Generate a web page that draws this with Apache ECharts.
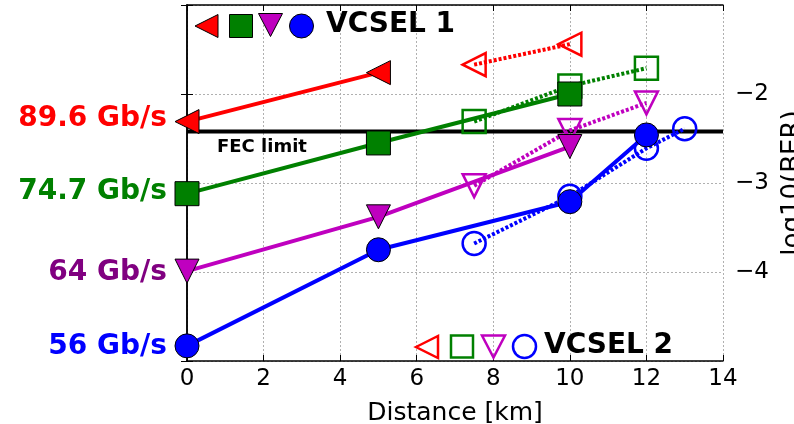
<!DOCTYPE html>
<html><head><meta charset="utf-8">
<script src="https://cdn.jsdelivr.net/npm/echarts@6/dist/echarts.min.js"></script>
<style>html,body{margin:0;padding:0;background:#fff}#c{width:794px;height:424px}</style>
</head><body><div id="c"></div>
<script>
// ---- data ----
const xTicks = [0, 2, 4, 6, 8, 10, 12, 14];
const yTicks = [-5, -4, -3, -2, -1];
const yTickLabels = ['', '\u22124', '\u22123', '\u22122', ''];
const fecLimit = -2.42;
const fecRange = [0, 14];
const rateLabels = ['89.6 Gb/s', '74.7 Gb/s', '64 Gb/s', '56 Gb/s'];

// VCSEL 1 (filled markers, solid lines)
const v1Red     = [[0, -2.31], [5, -1.76]];
const v1Green   = [[0, -3.12], [5, -2.55], [10, -2.00]];
const v1Magenta = [[0, -3.99], [5, -3.38], [10, -2.59]];
const v1Blue    = [[0, -4.83], [5, -3.75], [10, -3.21], [12, -2.46]];
// VCSEL 2 (open markers, dotted lines)
const v2Red     = [[7.5, -1.67], [10, -1.44]];
const v2Green   = [[7.5, -2.31], [10, -1.91], [12, -1.71]];
const v2Magenta = [[7.5, -3.03], [10, -2.41], [12, -2.10]];
const v2Blue    = [[7.5, -3.68], [10, -3.15], [12, -2.61], [13, -2.39]];

// ---- styling ----
const FONT = 'DejaVu Sans';
const RED = '#ff0000', GREEN = '#008000', MAG = '#bf00bf', BLUE = '#0000ff';
const labelColors = [RED, GREEN, '#800080', BLUE];
const SZ = 24;

function solid(name, data, color, symbol, rot) {
  return {
    name, type: 'line', data, symbol, symbolSize: SZ, symbolRotate: rot || 0,
    showSymbol: true, animation: false, silent: true, z: 5,
    lineStyle: { color, width: 4 },
    itemStyle: { color, borderColor: '#000', borderWidth: 1 }
  };
}
function dotted(name, data, color, symbol, rot) {
  return {
    name, type: 'line', data, symbol, symbolSize: SZ - 1, symbolRotate: rot || 0,
    showSymbol: true, animation: false, silent: true, z: 4,
    lineStyle: { color, width: 4, type: [3, 2] },
    itemStyle: { color: 'rgba(0,0,0,0)', borderColor: color, borderWidth: 2.5 }
  };
}

const chart = echarts.init(document.getElementById('c'), null, { renderer: 'canvas' });

const axisLine = { show: true, lineStyle: { color: '#000', width: 1.5 } };
const tick = { show: true, inside: true, length: 6, lineStyle: { color: '#000', width: 1 } };
const grid = { show: true, lineStyle: { color: '#b0b0b0', width: 1, type: [2, 2] } };

const leftTexts = rateLabels.map((t, i) => ({
  type: 'text', right: 794 - 167, top: [105, 178, 259, 333][i],
  style: { text: t, fill: labelColors[i], font: 'bold 28px "' + FONT + '"' }
}));

const option = {
  backgroundColor: '#fff',
  animation: false,
  grid: { left: 187, right: 71, top: 5, bottom: 63, containLabel: false, outerBoundsMode: 'none' },
  xAxis: [
    {
      type: 'value', min: xTicks[0], max: xTicks[xTicks.length - 1], interval: 2,
      position: 'bottom', axisLine, axisTick: tick, splitLine: grid,
      axisLabel: { color: '#000', fontSize: 23, fontFamily: FONT, margin: 7 },
      name: 'Distance [km]', nameLocation: 'middle', nameGap: 40,
      nameTextStyle: { color: '#000', fontSize: 25, fontFamily: FONT }
    },
    {
      type: 'value', min: xTicks[0], max: xTicks[xTicks.length - 1], interval: 2,
      position: 'top', axisLine, axisTick: tick, splitLine: { show: false },
      axisLabel: { show: false }
    }
  ],
  yAxis: [
    {
      type: 'value', min: yTicks[0], max: yTicks[yTicks.length - 1], interval: 1,
      position: 'right', axisLine, axisTick: tick, splitLine: grid,
      axisLabel: {
        color: '#000', fontSize: 23, fontFamily: FONT, margin: 12,
        formatter: v => yTickLabels[yTicks.indexOf(v)] || ''
      },
      name: 'log10(BER)', nameLocation: 'middle', nameRotate: 90, nameGap: 48,
      nameTextStyle: { color: '#000', fontSize: 26, fontFamily: FONT }
    },
    {
      type: 'value', min: yTicks[0], max: yTicks[yTicks.length - 1], interval: 1,
      position: 'left', axisLine, axisTick: tick, splitLine: { show: false },
      axisLabel: { show: false }
    }
  ],
  series: [
    {
      name: 'FEC', type: 'line', data: fecRange.map(x => [x, fecLimit]),
      symbol: 'none', silent: true, z: 3,
      lineStyle: { color: '#000', width: 4 }
    },
    dotted('V2 89.6', v2Red, RED, 'triangle', 90),
    dotted('V2 74.7', v2Green, GREEN, 'rect', 0),
    dotted('V2 64', v2Magenta, MAG, 'triangle', 180),
    dotted('V2 56', v2Blue, BLUE, 'circle', 0),
    solid('V1 89.6', v1Red, RED, 'triangle', 90),
    solid('V1 74.7', v1Green, GREEN, 'rect', 0),
    solid('V1 64', v1Magenta, MAG, 'triangle', 180),
    solid('V1 56', v1Blue, BLUE, 'circle', 0)
  ],
  graphic: [
    ...leftTexts,
    { type: 'text', left: 217, top: 138, z: 10,
      style: { text: 'FEC limit', fill: '#000', font: 'bold 18px "' + FONT + '"' } },
    // VCSEL 1 key
    { type: 'polygon', z: 10, shape: { points: [[195, 26], [218, 14.5], [218, 37.5]] },
      style: { fill: RED, stroke: '#000', lineWidth: 1 } },
    { type: 'rect', z: 10, shape: { x: 229.5, y: 14.5, width: 23, height: 23 },
      style: { fill: GREEN, stroke: '#000', lineWidth: 1 } },
    { type: 'polygon', z: 10, shape: { points: [[258.5, 13.5], [282.5, 13.5], [270.5, 36.5]] },
      style: { fill: MAG, stroke: '#000', lineWidth: 1 } },
    { type: 'circle', z: 10, shape: { cx: 301.5, cy: 26, r: 12 },
      style: { fill: BLUE, stroke: '#000', lineWidth: 1 } },
    { type: 'text', left: 326, top: 11, z: 10,
      style: { text: 'VCSEL 1', fill: '#000', font: 'bold 28px "' + FONT + '"' } },
    // VCSEL 2 key
    { type: 'polygon', z: 10, shape: { points: [[416, 347], [438, 336], [438, 358]] },
      style: { fill: 'none', stroke: RED, lineWidth: 2.5 } },
    { type: 'rect', z: 10, shape: { x: 451, y: 335.5, width: 22, height: 22 },
      style: { fill: 'none', stroke: GREEN, lineWidth: 2.5 } },
    { type: 'polygon', z: 10, shape: { points: [[482, 335.5], [505, 335.5], [493.5, 357.5]] },
      style: { fill: 'none', stroke: MAG, lineWidth: 2.5 } },
    { type: 'circle', z: 10, shape: { cx: 524.5, cy: 346.5, r: 11.5 },
      style: { fill: 'none', stroke: BLUE, lineWidth: 2.5 } },
    { type: 'text', left: 544, top: 332, z: 10,
      style: { text: 'VCSEL 2', fill: '#000', font: 'bold 28px "' + FONT + '"' } }
  ]
};
chart.setOption(option);
</script>
</body></html>
